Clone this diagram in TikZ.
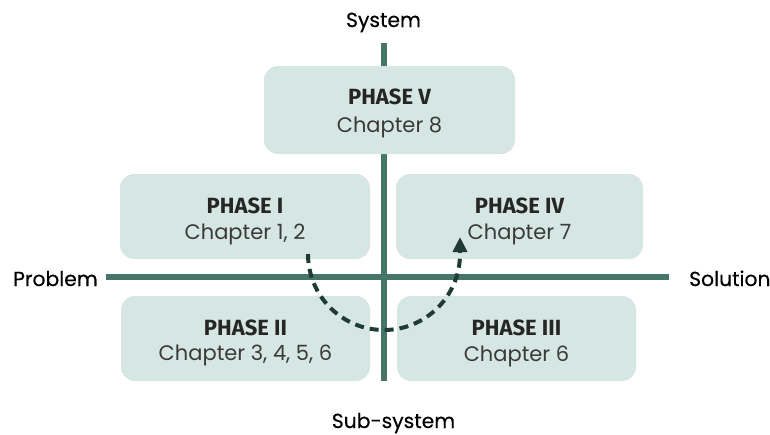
\documentclass[tikz,border=0pt]{standalone}
\usepackage{fontspec}
\setmainfont{Poppins}
\newfontfamily\phasefont{Fira Sans}
\newfontface\labelfont{Poppins}[FakeBold=0.4]
\usetikzlibrary{arrows.meta,calc}

\definecolor{boxfill}{HTML}{D6E6E3}
\definecolor{axisgreen}{HTML}{457568}
\definecolor{arrowgreen}{HTML}{1F3B34}
\definecolor{chaptergray}{HTML}{3A3A3A}
\definecolor{phaseink}{HTML}{262626}

\begin{document}
\begin{tikzpicture}[x=1pt,y=-1pt,
  quadbox/.style={fill=boxfill, rounded corners=14pt, inner sep=0pt},
  phasetitle/.style={anchor=base, inner sep=0pt, text=phaseink,
    font=\phasefont\bfseries\fontsize{22}{26}\selectfont},
  chaptertext/.style={anchor=base, inner sep=0pt, text=chaptergray,
    font=\fontsize{21}{25}\selectfont},
  axislabel/.style={inner sep=0pt, text=black,
    font=\labelfont\fontsize{20.3}{24}\selectfont},
  axisline/.style={draw=axisgreen, line width=6pt},
  flow/.style={draw=arrowgreen, line width=4pt, dash pattern=on 9pt off 6pt,
    -{Triangle[length=15pt,width=14pt]}}
]
\useasboundingbox (0,0) rectangle (770,434);

% axes
\coordinate (vtop) at (384,43);
\coordinate (vbot) at (384,381);
\coordinate (hleft) at (106,277);
\coordinate (hright) at (669,277);
\draw[axisline] (vtop) -- (vbot);
\draw[axisline] (hleft) -- (hright);

% axis labels
\node[axislabel, anchor=base] (sysLabel) at (383.5,27) {System};
\node[axislabel, anchor=base] (subLabel) at (393.5,428) {Sub-system};
\node[axislabel, anchor=base west] (probLabel) at (13,286) {Problem};
\node[axislabel, anchor=base west] (solLabel) at (689,286) {Solution};

% phase boxes
\node[quadbox, minimum width=251pt, minimum height=88pt] (p5) at (389.5,110) {};
\node[quadbox, minimum width=250pt, minimum height=85pt] (p1) at (245,216.5) {};
\node[quadbox, minimum width=247pt, minimum height=85pt] (p4) at (519.5,216.5) {};
\node[quadbox, minimum width=249pt, minimum height=85pt] (p2) at (245.5,338.5) {};
\node[quadbox, minimum width=239pt, minimum height=85pt] (p3) at (516.5,338.5) {};

% box texts
\node[phasetitle] (p5t) at ($(p5.center)+(0,-6)$) {PHASE V};
\node[chaptertext] (p5c) at ($(p5.center)+(0,22)$) {Chapter 8};
\node[phasetitle] (p1t) at ($(p1.center)+(0,-3.5)$) {PHASE I};
\node[chaptertext] (p1c) at ($(p1.center)+(0,23)$) {Chapter 1, 2};
\node[phasetitle] (p4t) at ($(p4.center)+(0,-3.5)$) {PHASE IV};
\node[chaptertext] (p4c) at ($(p4.center)+(0,23)$) {Chapter 7};
\node[phasetitle] (p2t) at ($(p2.center)+(0,-3.5)$) {PHASE II};
\node[chaptertext] (p2c) at ($(p2.center)+(0,22)$) {Chapter 3, 4, 5, 6};
\node[phasetitle] (p3t) at ($(p3.center)+(0,-3.5)$) {PHASE III};
\node[chaptertext] (p3c) at ($(p3.center)+(0,22.5)$) {Chapter 6};

% progression loop from phase I round to phase IV
\coordinate (loopStart) at (308,254);
\coordinate (loopEnd) at (460,237);
\draw[flow] (loopStart) arc[start angle=180, end angle=360, radius=76pt] -- (loopEnd);
\end{tikzpicture}
\end{document}
